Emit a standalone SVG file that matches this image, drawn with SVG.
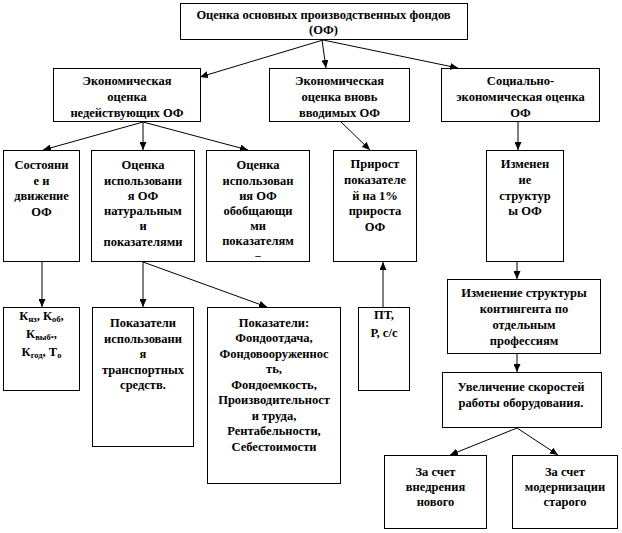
<svg xmlns="http://www.w3.org/2000/svg" width="622" height="533" viewBox="0 0 622 533">
<style>
.box{fill:#fff;stroke:#000;stroke-width:1}
text{font-family:"Liberation Serif","Times New Roman",serif;font-weight:bold;font-size:12.5px;fill:#000;text-anchor:middle}
.sub{font-size:8.5px}
.con line{stroke:#000;stroke-width:1;marker-end:url(#ah)}
</style>
<defs>
<marker id="ah" markerUnits="userSpaceOnUse" markerWidth="9" markerHeight="7" refX="8" refY="3.5" orient="auto">
<path d="M0,0 L8,3.5 L0,7 z" fill="#000"/>
</marker>
</defs>
<rect width="622" height="533" fill="#fff"/>
<g id="n-top"><rect class="box" x="180.5" y="3.5" width="287" height="36"/>
<text x="323.5" y="19">Оценка основных производственных фондов</text>
<text x="323.5" y="34">(ОФ)</text></g>
<g id="n-ned"><rect class="box" x="53.5" y="68.5" width="147" height="53"/>
<text x="127" y="85">Экономическая</text><text x="127" y="101">оценка</text><text x="127" y="117">недействующих ОФ</text></g>
<g id="n-vvod"><rect class="box" x="269.5" y="68.5" width="140" height="53"/>
<text x="339.5" y="85">Экономическая</text><text x="339.5" y="101">оценка вновь</text><text x="339.5" y="117">вводимых ОФ</text></g>
<g id="n-soc"><rect class="box" x="441.5" y="68.5" width="158" height="53"/>
<text x="520.5" y="85">Социально-</text><text x="520.5" y="101">экономическая оценка</text><text x="520.5" y="117">ОФ</text></g>
<g id="n-sost"><rect class="box" x="3.5" y="150.5" width="76" height="111"/>
<text x="41.5" y="169">Состояни</text><text x="41.5" y="185">е и</text><text x="41.5" y="200">движение</text><text x="41.5" y="216">ОФ</text></g>
<g id="n-nat"><rect class="box" x="91.5" y="150.5" width="103" height="111"/>
<text x="143" y="169">Оценка</text><text x="143" y="185">использовани</text><text x="143" y="200">я ОФ</text><text x="143" y="215">натуральным</text><text x="143" y="230">и</text><text x="143" y="246">показателями</text></g>
<g id="n-obob"><rect class="box" x="206.5" y="150.5" width="103" height="111"/>
<text x="258" y="169">Оценка</text><text x="258" y="185">использован</text><text x="258" y="200">ия ОФ</text><text x="258" y="215">обобщающи</text><text x="258" y="230">ми</text><text x="258" y="245">показателям</text><text x="258" y="259" style="font-size:11px">–</text></g>
<g id="n-prir"><rect class="box" x="333.5" y="150.5" width="83" height="111"/>
<text x="375" y="168">Прирост</text><text x="375" y="184">показателе</text><text x="375" y="200">й на 1%</text><text x="375" y="215">прироста</text><text x="375" y="231">ОФ</text></g>
<g id="n-izm"><rect class="box" x="486.5" y="150.5" width="77" height="111"/>
<text x="525" y="168">Изменен</text><text x="525" y="184">ие</text><text x="525" y="200">структур</text><text x="525" y="215">ы ОФ</text></g>
<g id="n-k"><rect class="box" x="3.5" y="307.5" width="76" height="83"/>
<text x="41.5" y="320">К<tspan class="sub" dy="2">нз</tspan><tspan dy="-2">, К</tspan><tspan class="sub" dy="2">об</tspan><tspan dy="-2">,</tspan></text>
<text x="41.5" y="338">К<tspan class="sub" dy="2">выб</tspan><tspan dy="-2">.,</tspan></text>
<text x="41.5" y="356">К<tspan class="sub" dy="2">год</tspan><tspan dy="-2">, Т</tspan><tspan class="sub" dy="2">о</tspan></text></g>
<g id="n-trans"><rect class="box" x="92.5" y="307.5" width="101" height="139"/>
<text x="143" y="327">Показатели</text><text x="143" y="343">использовани</text><text x="143" y="358">я</text><text x="143" y="374">транспортных</text><text x="143" y="389">средств.</text></g>
<g id="n-pok"><rect class="box" x="207.5" y="307.5" width="133" height="176"/>
<text x="274" y="327">Показатели:</text><text x="274" y="342">Фондоотдача,</text><text x="274" y="358">Фондовооруженнос</text><text x="274" y="373">ть,</text><text x="274" y="389">Фондоемкость,</text><text x="274" y="404">Производительност</text><text x="274" y="420">и труда,</text><text x="274" y="435">Рентабельности,</text><text x="274" y="451">Себестоимости</text></g>
<g id="n-pt"><rect class="box" x="358.5" y="307.5" width="51" height="83"/>
<text x="384" y="319">ПТ,</text><text x="384" y="337">Р, с/с</text></g>
<g id="n-kont"><rect class="box" x="447.5" y="279.5" width="153" height="74"/>
<text x="524" y="297">Изменение структуры</text><text x="524" y="313">контингента по</text><text x="524" y="329">отдельным</text><text x="524" y="345">профессиям</text></g>
<g id="n-skor"><rect class="box" x="442.5" y="372.5" width="159" height="55"/>
<text x="521" y="391">Увеличение скоростей</text><text x="521" y="407">работы оборудования.</text></g>
<g id="n-vned"><rect class="box" x="384.5" y="455.5" width="102" height="73"/>
<text x="435.5" y="476">За счет</text><text x="435.5" y="491">внедрения</text><text x="435.5" y="506">нового</text></g>
<g id="n-mod"><rect class="box" x="512.5" y="455.5" width="105" height="73"/>
<text x="565" y="476">За счет</text><text x="565" y="491">модернизации</text><text x="565" y="506">старого</text></g>
<g id="connectors" class="con">
<line x1="323" y1="40" x2="200" y2="77"/>
<line x1="322" y1="40" x2="326" y2="68"/>
<line x1="323" y1="40" x2="458" y2="68"/>
<line x1="143" y1="122" x2="43" y2="150"/>
<line x1="143" y1="122" x2="143" y2="150"/>
<line x1="143" y1="122" x2="248" y2="150"/>
<line x1="341" y1="122" x2="370" y2="150"/>
<line x1="518" y1="122" x2="518" y2="150"/>
<line x1="42" y1="262" x2="42" y2="307"/>
<line x1="143" y1="262" x2="143" y2="307"/>
<line x1="143" y1="262" x2="267" y2="307"/>
<line x1="383" y1="307" x2="383" y2="262"/>
<line x1="517" y1="262" x2="517" y2="279"/>
<line x1="517" y1="354" x2="517" y2="372"/>
<line x1="517" y1="428" x2="450" y2="455"/>
<line x1="517" y1="428" x2="558" y2="455"/>
</g>
</svg>
